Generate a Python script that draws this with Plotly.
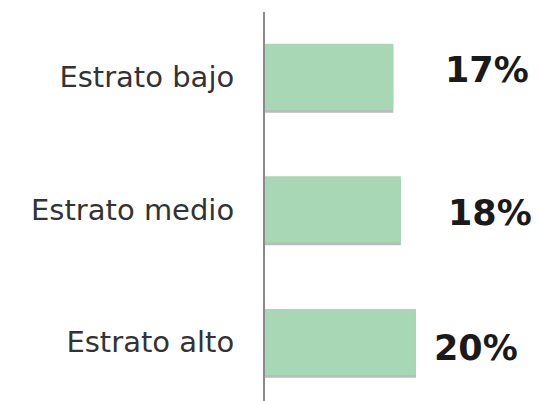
import plotly.graph_objects as go

# datos
estratos = ["Estrato bajo", "Estrato medio", "Estrato alto"]
porcentajes = [17, 18, 20]
etiquetas = ["17%", "18%", "20%"]

# desplazamiento de cada etiqueta (px), como en la imagen
label_shift = [50, 45, 16]
label_yshift = [7, -4, -6]

fig = go.Figure()
# sombra suave de las barras
fig.add_trace(go.Bar(
    y=estratos, x=porcentajes, orientation="h",
    marker=dict(color="rgba(120,120,120,0.5)", line=dict(width=0)),
    offset=-0.23, width=0.5, hoverinfo="skip",
))
fig.add_trace(go.Bar(
    y=estratos, x=porcentajes, orientation="h",
    marker=dict(color="#a7d7b4", line=dict(width=0)),
    offset=-0.25, width=0.5,
))

for est, val, txt, dx, dy in zip(estratos, porcentajes, etiquetas, label_shift, label_yshift):
    fig.add_annotation(
        x=val, y=est, text="<b>" + txt + "</b>", showarrow=False,
        xanchor="left", xshift=dx, yshift=dy,
        font=dict(family="DejaVu Sans, sans-serif", size=35, color="#1a1a1a"),
    )

# la página tiene 8px de margen, así que la figura es algo más pequeña
fig.update_layout(
    width=531, height=393,
    margin=dict(l=257, r=0, t=4, b=0),
    plot_bgcolor="white", paper_bgcolor="white",
    showlegend=False, barmode="overlay",
)
fig.update_xaxes(range=[0, 36.3], visible=False, showgrid=False, zeroline=False)
fig.update_yaxes(
    categoryorder="array", categoryarray=estratos,
    range=[2.445, -0.49],
    showline=True, linecolor="#8a8a8a", linewidth=2,
    showgrid=False, zeroline=False, ticks="",
    ticklabelstandoff=23,
    tickfont=dict(family="DejaVu Sans, sans-serif", size=29, color="#333333"),
)

fig.write_html("out.html")
